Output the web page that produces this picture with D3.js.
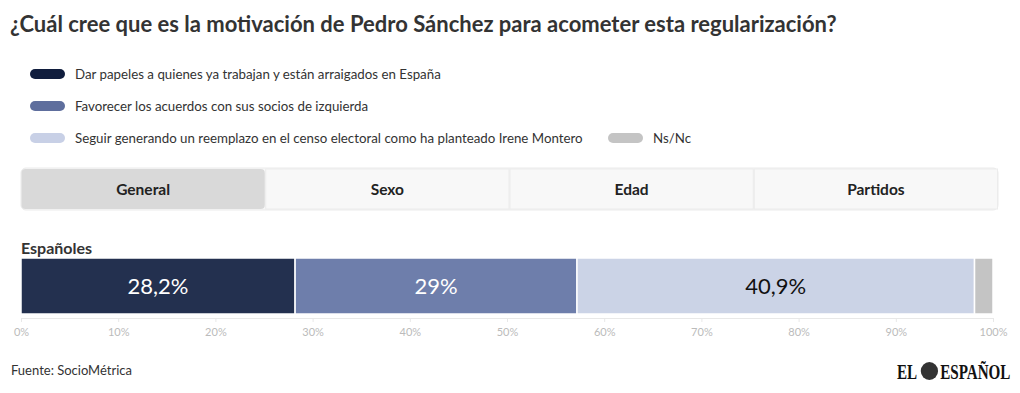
<!DOCTYPE html>
<html>
<head>
<meta charset="utf-8">
<script src="https://cdn.jsdelivr.net/npm/d3@7"></script>
<style>
  body { margin: 0; background: #fff; font-family: Lato, "Open Sans", sans-serif; }
</style>
</head>
<body>
<div id="chart"></div>
<script>
// data
var categories = ["Dar papeles a quienes ya trabajan y están arraigados en España",
                  "Favorecer los acuerdos con sus socios de izquierda",
                  "Seguir generando un reemplazo en el censo electoral como ha planteado Irene Montero",
                  "Ns/Nc"];
var values = [28.2, 29, 40.9, 1.9];
var valueLabels = ["28,2%", "29%", "40,9%", ""];
var rowLabel = "Españoles";
var tabs = ["General", "Sexo", "Edad", "Partidos"];
var ticks = [0, 10, 20, 30, 40, 50, 60, 70, 80, 90, 100];

var barColors = ["#23304f", "#6e7eab", "#cbd3e6", "#c4c4c4"];
var legendColors = ["#101d3d", "#5e6e9d", "#c8d0e6", "#c4c4c4"];
var labelColors = ["#fff", "#fff", "#111", "#111"];

var W = 1020, H = 393;
var svg = d3.select("#chart").append("svg")
    .attr("width", W)
    .attr("height", H)

svg.append("text")
    .attr("x", 10).attr("y", 32)
    .text("¿Cuál cree que es la motivación de Pedro Sánchez para acometer esta regularización?")
    .style("font-size", "22px")
    .style("font-weight", "bold")
    .style("fill", "#333")

// legend
var legendPos = [[30, 74], [30, 106], [30, 138], [608, 138]];
var legend = svg.append("g").attr("class", "legend")
legend.selectAll("g")
    .data(categories)
    .enter()
    .append("g")
    .each(function(d, i) {
        var g = d3.select(this);
        g.append("rect")
            .attr("x", legendPos[i][0])
            .attr("y", legendPos[i][1] - 5)
            .attr("width", 35)
            .attr("height", 10)
            .attr("rx", 5)
            .style("fill", legendColors[i])
        g.append("text")
            .attr("x", legendPos[i][0] + 45)
            .attr("y", legendPos[i][1] + 4.5)
            .text(d)
            .style("font-size", "13.3px")
            .style("fill", "#333")
    })

// tabs
var tabX = d3.scaleBand().domain(tabs).range([21, 998]);
var tabG = svg.append("g")
tabG.append("rect")
    .attr("x", 21).attr("y", 168).attr("width", 977).attr("height", 42)
    .attr("rx", 5)
    .style("fill", "#f7f7f7").style("stroke", "#ebebeb")
tabG.selectAll("rect.tab")
    .data(tabs)
    .enter()
    .append("rect")
    .attr("class", "tab")
    .attr("x", function(d) { return tabX(d) + 0.5; })
    .attr("y", 169)
    .attr("width", tabX.bandwidth() - 1)
    .attr("height", 40)
    .attr("rx", function(d, i) { return i == 0 ? 4 : 0; })
    .style("fill", function(d, i) { return i == 0 ? "#d9d9d9" : "#f8f8f8"; })
    .style("stroke", function(d, i) { return i == 0 ? "none" : "#ececec"; })
tabG.selectAll("text")
    .data(tabs)
    .enter()
    .append("text")
    .attr("x", function(d) { return tabX(d) + tabX.bandwidth() / 2; })
    .attr("y", 195)
    .attr("text-anchor", "middle")
    .text(function(d) { return d; })
    .style("font-size", "15.5px")
    .style("font-weight", "bold")
    .style("fill", "#222")

// bar
var x = d3.scaleLinear().domain([0, 100]).range([21, 993]);
var starts = [];
var acc = 0;
values.forEach(function(v) { starts.push(acc); acc += v; });

svg.append("text")
    .attr("x", 21).attr("y", 254)
    .text(rowLabel)
    .style("font-size", "16px")
    .style("font-weight", "bold")
    .style("fill", "#333")

var bar = svg.append("g")
bar.selectAll("rect")
    .data(values)
    .enter()
    .append("rect")
    .attr("x", function(d, i) { return x(starts[i]); })
    .attr("y", 258)
    .attr("width", function(d) { return x(d) - x(0); })
    .attr("height", 56)
    .style("fill", function(d, i) { return barColors[i]; })
    .style("stroke", "#fff")
    .style("stroke-width", 1.5)
bar.selectAll("text")
    .data(values)
    .enter()
    .append("text")
    .attr("x", function(d, i) { return x(starts[i] + d / 2); })
    .attr("y", 294)
    .attr("text-anchor", "middle")
    .text(function(d, i) { return valueLabels[i]; })
    .style("font-size", "22px")
    .style("fill", function(d, i) { return labelColors[i]; })

// axis
var axis = svg.append("g")
    .attr("transform", "translate(0,318)")
    .call(d3.axisBottom(x).tickValues(ticks).tickFormat(function(d) { return d + "%"; }).tickSize(4).tickPadding(6))
axis.select(".domain").style("stroke", "#e8e8e8")
axis.selectAll(".tick line").style("stroke", "#e8e8e8")
axis.selectAll(".tick text")
    .style("font-size", "11px")
    .style("fill", "#bbb")
    .style("font-family", "Lato, sans-serif")

// footer
svg.append("text")
    .attr("x", 11).attr("y", 375)
    .text("Fuente: SocioMétrica")
    .style("font-size", "13px")
    .style("fill", "#333")

// logo, squeezed horizontally
var logo = svg.append("g")
    .attr("transform", "translate(897,379) scale(0.72,1)")
logo.append("text")
    .attr("x", 0).attr("y", 0)
    .text("EL")
    .style("font-family", "'Liberation Serif', serif")
    .style("font-weight", "bold")
    .style("font-size", "21px")
    .style("fill", "#111")
logo.append("ellipse")
    .attr("cx", 45).attr("cy", -8).attr("rx", 12).attr("ry", 9)
    .style("fill", "#333")
logo.append("text")
    .attr("x", 60).attr("y", 0)
    .text("ESPAÑOL")
    .style("font-family", "'Liberation Serif', serif")
    .style("font-weight", "bold")
    .style("font-size", "21px")
    .style("fill", "#111")
</script>
</body>
</html>
